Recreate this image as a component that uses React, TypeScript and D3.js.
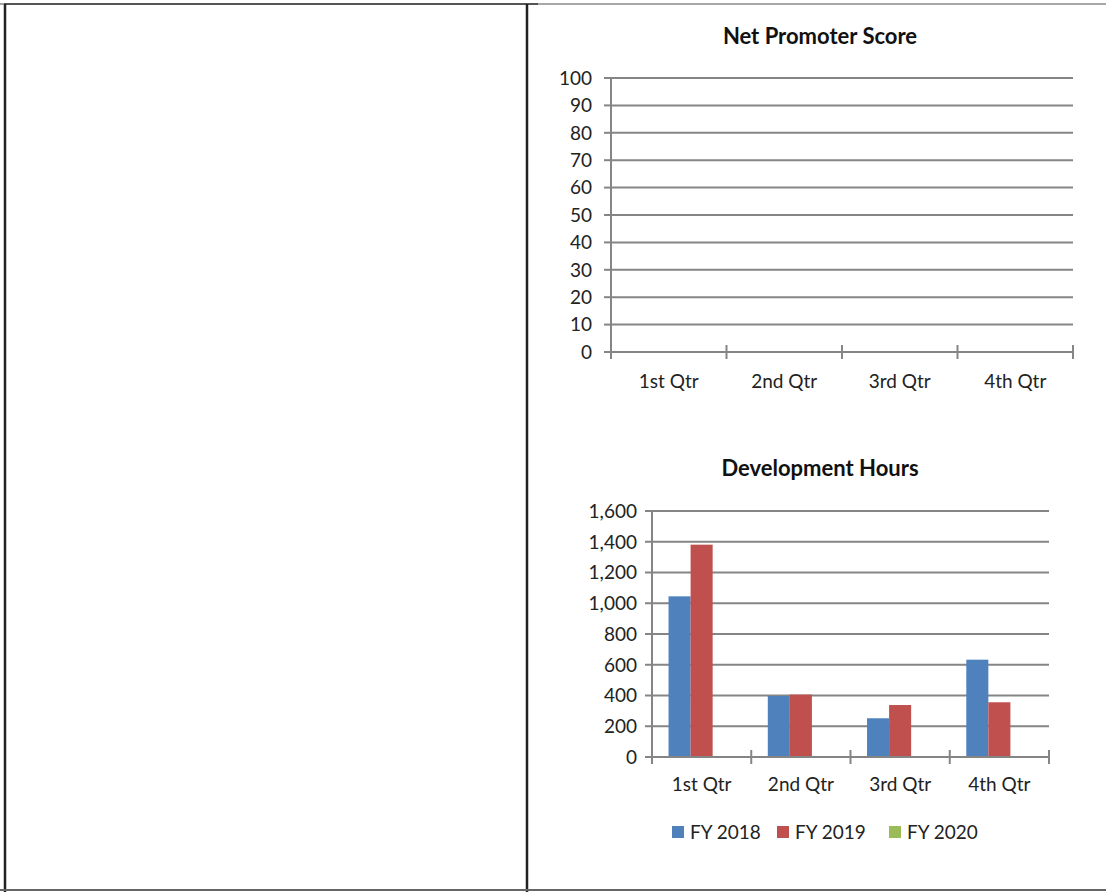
import React from "react";
import * as d3 from "d3";

// Quarter categories shared by both charts
const quarters = ["1st Qtr", "2nd Qtr", "3rd Qtr", "4th Qtr"];

// Series names and colours
const seriesNames = ["FY 2018", "FY 2019", "FY 2020"];
const seriesColors = ["#4F81BD", "#C0504D", "#9BBB59"];

// Development hours per quarter (FY 2020 has no data yet)
const fy2018Hours = [1045, 397, 252, 633];
const fy2019Hours = [1381, 406, 338, 356];
const fy2020Hours: (number | null)[] = [null, null, null, null];

// Net Promoter Score has no recorded values
const npsTicks = [0, 10, 20, 30, 40, 50, 60, 70, 80, 90, 100];
const hoursTicks = [0, 200, 400, 600, 800, 1000, 1200, 1400, 1600];

const FONT = "Lato, 'Open Sans', sans-serif";
const TEXT = "#222";
const GRID = "#858585";
const SW = 2;
const LABEL_SIZE = 19;

type AxisProps = {
  x0: number;
  x1: number;
  y: d3.ScaleLinear<number, number>;
  ticks: number[];
  fmt: (v: number) => string;
  labelGap: number;
};

function ValueGrid({ x0, x1, y, ticks, fmt, labelGap }: AxisProps) {
  return (
    <g>
      {ticks.map((t) => (
        <g key={t}>
          {t !== 0 && (
            <line x1={x0} x2={x1} y1={y(t)} y2={y(t)} stroke={GRID} strokeWidth={SW} />
          )}
          <line x1={x0 - 7} x2={x0} y1={y(t)} y2={y(t)} stroke={GRID} strokeWidth={SW} />
          <text
            x={x0 - labelGap}
            y={y(t)}
            dy="0.36em"
            textAnchor="end"
            fontSize={LABEL_SIZE}
            fill={TEXT}
            fontFamily={FONT}
          >
            {fmt(t)}
          </text>
        </g>
      ))}
      <line x1={x0} x2={x0} y1={y(ticks[ticks.length - 1])} y2={y(0)} stroke={GRID} strokeWidth={SW} />
    </g>
  );
}

function CategoryAxis({
  x,
  y0,
  labelY,
}: {
  x: d3.ScaleBand<string>;
  y0: number;
  labelY: number;
}) {
  const [r0, r1] = x.range();
  const step = (r1 - r0) / quarters.length;
  const bounds = d3.range(quarters.length + 1).map((i) => r0 + i * step);
  return (
    <g>
      <line x1={r0} x2={r1} y1={y0} y2={y0} stroke={GRID} strokeWidth={SW} />
      {bounds.map((b, i) => (
        <line key={i} x1={b} x2={b} y1={y0 - 7} y2={y0 + 7} stroke={GRID} strokeWidth={SW} />
      ))}
      {quarters.map((q) => (
        <text
          key={q}
          x={(x(q) ?? 0) + x.bandwidth() / 2}
          y={labelY}
          textAnchor="middle"
          fontSize={LABEL_SIZE}
          fill={TEXT}
          fontFamily={FONT}
        >
          {q}
        </text>
      ))}
    </g>
  );
}

export default function App() {
  // Net Promoter Score chart
  const npsLeft = 611;
  const npsRight = 1073;
  const npsY = d3.scaleLinear().domain([0, 100]).range([352, 78]);
  const npsX = d3.scaleBand<string>().domain(quarters).range([npsLeft, npsRight]);

  // Development hours chart: three series per cluster, gap width 150%
  const devLeft = 652;
  const devRight = 1049;
  const devY = d3.scaleLinear().domain([0, 1600]).range([757, 511]);
  const gap = 1.5 / 4.5;
  const devX = d3
    .scaleBand<string>()
    .domain(quarters)
    .range([devLeft, devRight])
    .paddingInner(gap)
    .paddingOuter(gap / 2);
  const seriesX = d3.scaleBand<string>().domain(seriesNames).range([0, devX.bandwidth()]);
  const seriesValues = [fy2018Hours, fy2019Hours, fy2020Hours];

  const commaFmt = d3.format(",");

  // legend layout
  const legendItems = [
    { name: seriesNames[0], color: seriesColors[0], x: 672 },
    { name: seriesNames[1], color: seriesColors[1], x: 777 },
    { name: seriesNames[2], color: seriesColors[2], x: 889 },
  ];

  return (
    <svg
      width={1106}
      height={892}
      style={{ position: "absolute", left: 0, top: 0, background: "#fff" }}
    >
      <rect width={1106} height={892} fill="#fff" />

      {/* page frame */}
      <line x1={0} x2={1106} y1={4} y2={4} stroke="#a8a8a8" strokeWidth={2} />
      <line x1={4} x2={538} y1={4} y2={4} stroke="#555" strokeWidth={2} />
      <line x1={5} x2={5} y1={4} y2={892} stroke="#222" strokeWidth={2.5} />
      <line x1={527} x2={527} y1={4} y2={892} stroke="#222" strokeWidth={2.5} />
      <line x1={0} x2={1106} y1={890} y2={890} stroke="#666" strokeWidth={2} />

      {/* Net Promoter Score */}
      <text x={820} y={44} textAnchor="middle" fontSize={22} fontWeight="bold" fill="#111" fontFamily={FONT}>
        Net Promoter Score
      </text>
      <ValueGrid x0={npsLeft} x1={npsRight} y={npsY} ticks={npsTicks} fmt={(v) => String(v)} labelGap={19} />
      <CategoryAxis x={npsX} y0={npsY(0)} labelY={388} />

      {/* Development Hours */}
      <text x={820} y={476} textAnchor="middle" fontSize={22} fontWeight="bold" fill="#111" fontFamily={FONT}>
        Development Hours
      </text>
      <ValueGrid x0={devLeft} x1={devRight} y={devY} ticks={hoursTicks} fmt={commaFmt} labelGap={15} />
      {seriesValues.map((vals, si) => (
        <g key={seriesNames[si]} fill={seriesColors[si]}>
          {vals.map((v, qi) =>
            v == null ? null : (
              <rect
                key={quarters[qi]}
                x={(devX(quarters[qi]) ?? 0) + (seriesX(seriesNames[si]) ?? 0)}
                y={devY(v)}
                width={seriesX.bandwidth()}
                height={devY(0) - devY(v)}
              />
            )
          )}
        </g>
      ))}
      <CategoryAxis x={devX} y0={devY(0)} labelY={791} />

      {/* legend */}
      {legendItems.map((it) => (
        <g key={it.name}>
          <rect x={it.x} y={826} width={12} height={12} fill={it.color} />
          <text x={it.x + 18} y={832} dy="0.36em" fontSize={LABEL_SIZE} fill={TEXT} fontFamily={FONT}>
            {it.name}
          </text>
        </g>
      ))}
    </svg>
  );
}
